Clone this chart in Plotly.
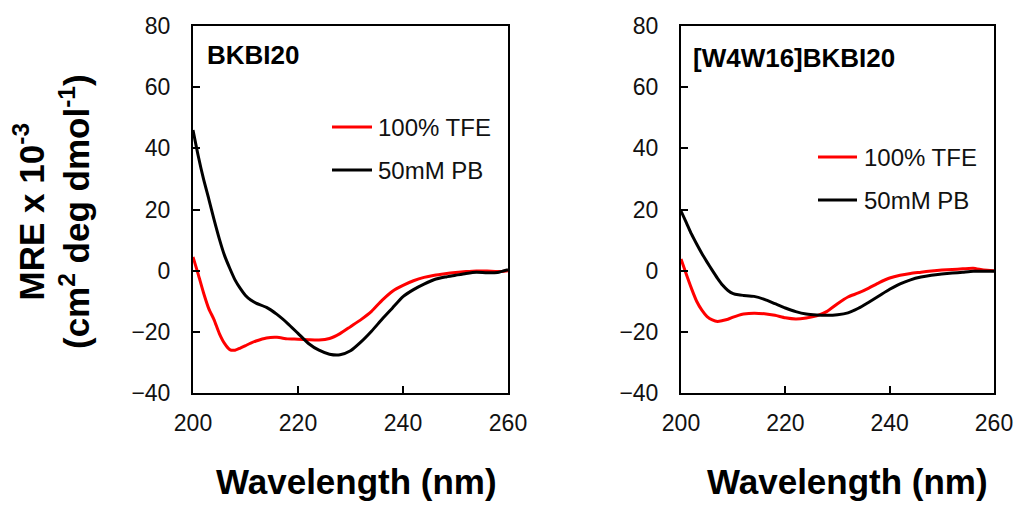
import plotly.graph_objects as go

# Wavelength grid (nm)
wavelength = [200, 201, 202, 203, 204, 205, 206, 207, 208, 209, 210, 211, 212,
              214, 216, 218, 220, 222, 224, 226, 228, 230, 232, 234, 236, 238,
              240, 242, 244, 246, 248, 250, 252, 254, 256, 258, 260]

# BKBI20, MRE x 10^-3
bkbi_tfe = [4.5, -1.2, -7.2, -12.4, -16.0, -20.5, -23.8, -25.8, -26.0, -25.3, -24.5, -23.7, -23.0,
            -22.0, -21.8, -22.3, -22.4, -22.6, -22.7, -22.2, -20.6, -18.3, -16.0, -13.3, -9.7, -6.7,
            -4.8, -3.3, -2.2, -1.5, -1.0, -0.6, -0.3, -0.1, -0.1, -0.3, 0.0]
bkbi_pb = [46.0, 37.5, 30.0, 23.5, 16.8, 10.5, 5.0, 0.8, -3.0, -5.8, -8.1, -9.6, -10.6,
           -12.0, -14.3, -17.2, -20.5, -23.8, -26.0, -27.3, -27.5, -26.2, -23.3, -19.8, -15.9, -12.2,
           -8.5, -6.2, -4.4, -2.9, -2.1, -1.5, -0.9, -0.5, -0.7, -0.6, 0.3]

# [W4W16]BKBI20, MRE x 10^-3
w4w16_tfe = [3.8, -1.1, -5.8, -10.0, -12.9, -15.0, -16.1, -16.6, -16.3, -15.9, -15.2, -14.6, -14.2,
             -13.9, -14.1, -14.6, -15.4, -15.8, -15.5, -14.8, -13.3, -10.8, -8.6, -7.3, -5.7, -3.9,
             -2.4, -1.5, -0.9, -0.5, -0.1, 0.2, 0.4, 0.6, 0.8, 0.2, 0.0]
w4w16_pb = [19.5, 15.8, 12.0, 8.7, 5.6, 2.8, 0.1, -2.5, -4.8, -6.5, -7.5, -7.9, -8.1,
            -8.4, -9.4, -10.8, -12.2, -13.4, -14.2, -14.5, -14.6, -14.4, -13.8, -12.3, -10.3, -8.2,
            -6.1, -4.3, -3.0, -2.1, -1.5, -1.1, -0.8, -0.5, -0.2, -0.2, -0.2]

panel_titles = ["BKBI20", "[W4W16]BKBI20"]
series_names = ["100% TFE", "50mM PB"]
series_colors = ["#FF0000", "#000000"]
x_ticks = [200, 220, 240, 260]
y_ticks = [-40, -20, 0, 20, 40, 60, 80]

W, H = 1020, 505
FONT = "Arial, 'Liberation Sans', sans-serif"


def px(x):
    return x / W


def py(y):
    return 1 - y / H


fig = go.Figure()

panels = [
    (bkbi_tfe, bkbi_pb, "x", "y"),
    (w4w16_tfe, w4w16_pb, "x2", "y2"),
]
for tfe, pb, xa, ya in panels:
    for vals, name, color in zip([tfe, pb], series_names, series_colors):
        fig.add_trace(go.Scatter(
            x=wavelength, y=vals, mode="lines", name=name,
            line=dict(color=color, width=3, shape="spline", smoothing=0.6),
            xaxis=xa, yaxis=ya, showlegend=False,
        ))

axis_common = dict(
    showline=True, linecolor="black", linewidth=2, mirror=True,
    ticks="inside", ticklen=7, tickwidth=1.5, tickcolor="black",
    showgrid=False, zeroline=False, automargin=False,
    tickfont=dict(family=FONT, size=23, color="#111111"),
)

y_dom = [py(393), py(26)]
fig.update_layout(
    width=W, height=H,
    margin=dict(l=0, r=0, t=0, b=0, pad=0, autoexpand=False),
    paper_bgcolor="white", plot_bgcolor="white",
    showlegend=False,
    xaxis=dict(domain=[px(193), px(508)], range=[200, 260], tickvals=x_ticks,
               anchor="y", ticklabelstandoff=8, **axis_common),
    yaxis=dict(domain=y_dom, range=[-40, 80], tickvals=y_ticks,
               anchor="x", ticklabelstandoff=16, **axis_common),
    xaxis2=dict(domain=[px(681), px(994)], range=[200, 260], tickvals=x_ticks,
                anchor="y2", ticklabelstandoff=8, **axis_common),
    yaxis2=dict(domain=y_dom, range=[-40, 80], tickvals=y_ticks,
                anchor="x2", ticklabelstandoff=16, **axis_common),
)

annotations = []
shapes = []

# Panel titles
annotations.append(dict(x=px(205), y=py(55), xref="paper", yref="paper",
                        text="<b>%s</b>" % panel_titles[0], showarrow=False,
                        xanchor="left", yanchor="middle",
                        font=dict(family=FONT, size=26, color="black")))
annotations.append(dict(x=px(691), y=py(58), xref="paper", yref="paper",
                        text="<b>%s</b>" % panel_titles[1], showarrow=False,
                        xanchor="left", yanchor="middle",
                        font=dict(family=FONT, size=26, color="black")))

# Legend keys drawn inside each panel
legend_pos = [
    (332, 372, 376, [127, 170]),
    (818, 857, 862, [157, 200]),
]
for x0, x1, xt, ys in legend_pos:
    for yy, name, color in zip(ys, series_names, series_colors):
        shapes.append(dict(type="line", xref="paper", yref="paper",
                           x0=px(x0), x1=px(x1), y0=py(yy), y1=py(yy),
                           line=dict(color=color, width=3)))
        annotations.append(dict(x=px(xt), y=py(yy), xref="paper", yref="paper",
                                text=name, showarrow=False,
                                xanchor="left", yanchor="middle",
                                font=dict(family=FONT, size=24, color="#111111")))

# Axis titles
for cx in (356, 847):
    annotations.append(dict(x=px(cx), y=py(481), xref="paper", yref="paper",
                            text="<b>Wavelength (nm)</b>", showarrow=False,
                            xanchor="center", yanchor="middle",
                            font=dict(family=FONT, size=35, color="black")))

annotations.append(dict(x=px(52), y=py(212), xref="paper", yref="paper",
                        text="<b>MRE x 10<sup>-3</sup></b><br><b>(cm<sup>2</sup> deg dmol<sup>-1</sup>)</b>",
                        showarrow=False, textangle=-90,
                        xanchor="center", yanchor="middle",
                        font=dict(family=FONT, size=35, color="black")))

fig.update_layout(annotations=annotations, shapes=shapes)

fig.write_html("out.html")
